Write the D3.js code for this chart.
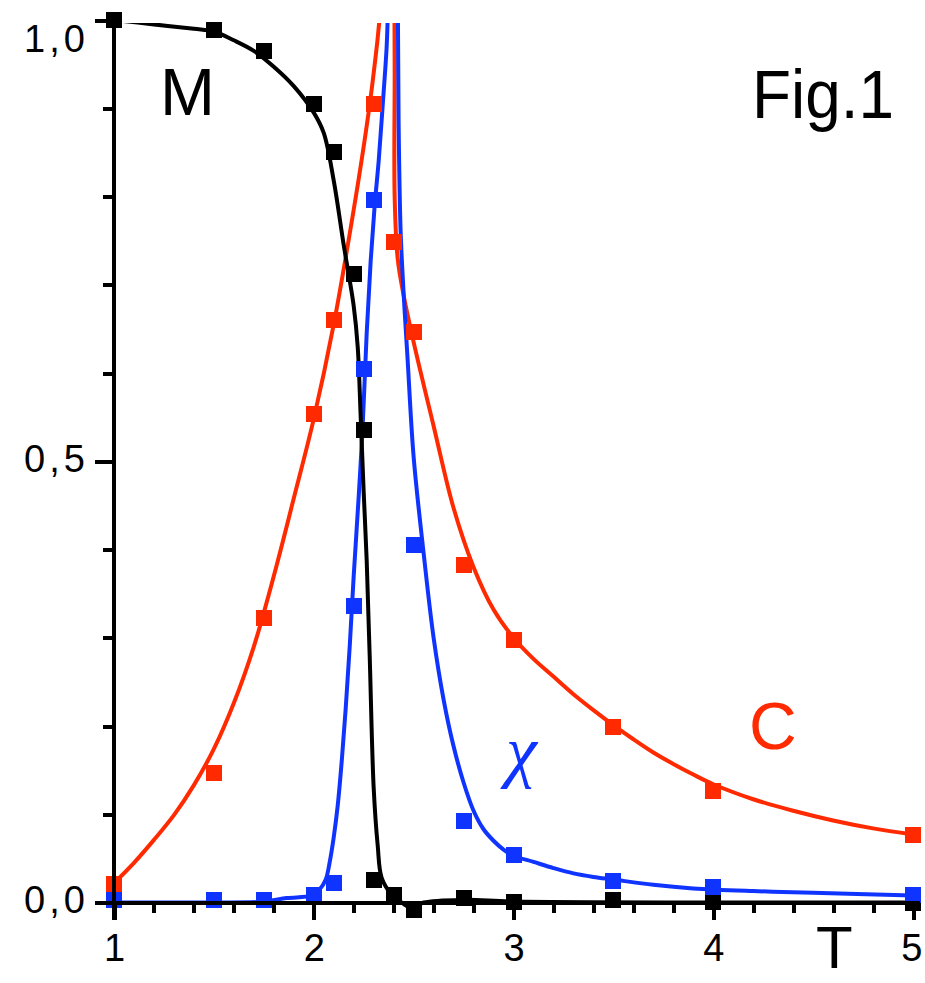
<!DOCTYPE html>
<html lang="en">
<head>
<meta charset="UTF-8">
<script src="https://d3js.org/d3.v7.min.js"></script>
<title>Fig.1</title>
<style>
  body { margin: 0; background: #fff; }
  svg { display: block; }
</style>
</head>
<body>
<div id="chart"></div>
<script>
    // marker temperatures and values
    const tM = [1, 1.5, 1.75, 2, 2.1, 2.2, 2.25, 2.3, 2.4, 2.5, 2.75, 3, 3.5, 4, 5]
    const mMarks = [1.0, 0.989, 0.965, 0.905, 0.85, 0.712, 0.535, 0.026, 0.009, -0.009, 0.005, 0.001, 0.003, 0.001, 0.0]

    const tC = [1, 1.5, 1.75, 2, 2.1, 2.3, 2.4, 2.5, 2.75, 3, 3.5, 4, 5]
    const cMarks = [0.021, 0.147, 0.322, 0.554, 0.66, 0.905, 0.749, 0.646, 0.382, 0.297, 0.199, 0.126, 0.077]

    const tX = [1, 1.5, 1.75, 2, 2.1, 2.2, 2.25, 2.3, 2.5, 2.75, 3, 3.5, 4, 5]
    const xMarks = [0.003, 0.003, 0.003, 0.009, 0.022, 0.336, 0.605, 0.796, 0.405, 0.092, 0.054, 0.024, 0.017, 0.009]

    // the drawn curves [T, value]; C and chi run off the top near Tc
    const mLine = [[1.0, 1.0], [1.2, 0.995], [1.4, 0.99], [1.5, 0.987], [1.6, 0.977], [1.7, 0.965],
        [1.8, 0.947], [1.9, 0.925], [2.0, 0.895], [2.05, 0.872], [2.1, 0.818], [2.15, 0.745],
        [2.2, 0.676], [2.22, 0.63], [2.235, 0.55], [2.25, 0.465], [2.265, 0.388], [2.28, 0.28],
        [2.3, 0.13], [2.32, 0.065], [2.34, 0.028], [2.39, 0.009], [2.44, 0.0], [2.49, -0.006],
        [2.55, 0.0], [2.75, 0.003], [3, 0.001], [4, 0], [5, 0]]

    const cLine = [[1.0, 0.022], [1.1, 0.045], [1.2, 0.071], [1.3, 0.099], [1.4, 0.133], [1.5, 0.174],
        [1.6, 0.226], [1.7, 0.29], [1.8, 0.37], [1.9, 0.458], [2.0, 0.548], [2.1, 0.655],
        [2.2, 0.785], [2.26, 0.872], [2.3, 0.94], [2.335, 1.02], [2.37, 1.4], [2.4, 1.1],
        [2.405, 0.95], [2.405, 0.8], [2.42, 0.73], [2.45, 0.688], [2.5, 0.635], [2.6, 0.54],
        [2.7, 0.447], [2.8, 0.38], [2.9, 0.332], [3.0, 0.3], [3.1, 0.276], [3.2, 0.256],
        [3.3, 0.236], [3.4, 0.218], [3.5, 0.201], [3.6, 0.185], [3.7, 0.17], [3.8, 0.157],
        [3.9, 0.145], [4.0, 0.134], [4.2, 0.117], [4.4, 0.104], [4.6, 0.093], [4.8, 0.084], [5.0, 0.077]]

    const xLine = [[1.0, 0.0], [1.5, 0.0], [1.75, 0.001], [1.865, 0.005], [1.99, 0.008], [2.03, 0.015],
        [2.06, 0.026], [2.08, 0.046], [2.1, 0.074], [2.12, 0.11], [2.14, 0.16], [2.16, 0.22],
        [2.18, 0.29], [2.2, 0.37], [2.225, 0.46], [2.245, 0.54], [2.265, 0.645], [2.285, 0.727],
        [2.305, 0.79], [2.325, 0.84], [2.345, 0.903], [2.365, 0.97], [2.372, 1.02], [2.395, 1.4],
        [2.42, 1.05], [2.425, 0.88], [2.435, 0.76], [2.45, 0.69], [2.47, 0.615], [2.5, 0.505],
        [2.55, 0.396], [2.6, 0.3], [2.65, 0.23], [2.7, 0.177], [2.75, 0.136], [2.8, 0.104],
        [2.85, 0.083], [2.9, 0.07], [2.95, 0.06], [3.0, 0.053], [3.1, 0.046], [3.2, 0.039],
        [3.3, 0.033], [3.4, 0.029], [3.5, 0.026], [3.7, 0.02], [3.9, 0.016], [4.2, 0.013],
        [4.5, 0.011], [5, 0.008]]

    // tick labels
    const xTicks = [1, 2, 3, 4, 5]
    const yTicks = [0, 0.5, 1]
    const yTickLabels = ["0,0", "0,5", "1,0"]

    const width = 925
    const height = 983
    const red = "#ff2a00"
    const blue = "#1034ff"
    const font = "'Liberation Sans', Arial, sans-serif"

    const svg = d3.select("#chart")
        .append("svg")
        .attr("width", width)
        .attr("height", height)

    const x = d3.scaleLinear().domain([1, 5]).range([114, 913])
    const y = d3.scaleLinear().domain([0, 1]).range([902.5, 20])

    // curves are cut at the top of the frame
    svg.append("clipPath").attr("id", "frame")
        .append("rect")
        .attr("x", 0).attr("y", y(1) + 3)
        .attr("width", width).attr("height", height)

    const line = d3.line()
        .x(d => x(d[0]))
        .y(d => y(d[1]))
        .curve(d3.curveCatmullRom.alpha(0.5))

    const curves = svg.append("g").attr("clip-path", "url(#frame)")
    const series = [
        {data: cLine, color: red},
        {data: xLine, color: blue},
        {data: mLine, color: "#000"}
    ]
    series.forEach(s => {
        curves.append("path")
            .attr("d", line(s.data))
            .attr("fill", "none")
            .attr("stroke", s.color)
            .attr("stroke-width", 4)
            .attr("stroke-linejoin", "round")
    })

    // square markers: black, then red, then blue on top
    const marks = [
        {t: tM, v: mMarks, color: "#000"},
        {t: tC, v: cMarks, color: red},
        {t: tX, v: xMarks, color: blue}
    ]
    const size = 16
    marks.forEach(m => {
        svg.append("g")
            .selectAll("rect")
            .data(m.t.map((t, i) => [t, m.v[i]]))
            .join("rect")
              .attr("x", d => x(d[0]) - size / 2)
              .attr("y", d => y(d[1]) - size / 2)
              .attr("width", size)
              .attr("height", size)
              .attr("fill", m.color)
              .attr("shape-rendering", "crispEdges")
    })

    // axes sit over the markers
    const axes = svg.append("g")
        .attr("color", "#000")
        .attr("shape-rendering", "crispEdges")

    axes.append("line")
        .attr("x1", x(1) - 19).attr("x2", x(5) + 7)
        .attr("y1", y(0)).attr("y2", y(0))
        .attr("stroke", "#000").attr("stroke-width", 4)
    axes.append("line")
        .attr("x1", x(1)).attr("x2", x(1))
        .attr("y1", y(1) - 2).attr("y2", y(0) + 17)
        .attr("stroke", "#000").attr("stroke-width", 4)

    axes.append("g")
        .attr("transform", `translate(0,${y(0)})`)
        .call(d3.axisBottom(x).ticks(20).tickSize(10).tickSizeOuter(0).tickFormat(""))
    const xMajor = axes.append("g")
        .attr("transform", `translate(0,${y(0)})`)
        .call(d3.axisBottom(x).tickValues(xTicks).tickSize(17).tickSizeOuter(0)
            .tickPadding(15).tickFormat(d3.format("d")))
    axes.append("g")
        .attr("transform", `translate(${x(1)},0)`)
        .call(d3.axisLeft(y).ticks(10).tickSize(11).tickSizeOuter(0).tickFormat(""))
    const yMajor = axes.append("g")
        .attr("transform", `translate(${x(1)},0)`)
        .call(d3.axisLeft(y).tickValues(yTicks).tickSize(19).tickSizeOuter(0)
            .tickPadding(10).tickFormat((d, i) => yTickLabels[i]))

    axes.selectAll(".domain").remove()
    axes.selectAll(".tick line")
        .attr("stroke", "#000")
        .attr("stroke-width", 4)
    axes.selectAll(".tick text")
        .attr("font-family", font)
        .attr("font-size", 38)
        .attr("fill", "#000")

    xMajor.selectAll(".tick text")
        .filter(d => d === 5)
        .attr("text-anchor", "end")
        .attr("x", 9)

    yMajor.selectAll(".tick text")
        .attr("textLength", 61)
        .attr("lengthAdjust", "spacing")
        .attr("dy", d => d === 1 ? "0.82em" : "0.27em")

    // curve names and captions
    const labels = [
        {text: "M", x: 160, y: 115, size: 66, color: "#000"},
        {text: "Fig.1", x: 752, y: 118, size: 68, color: "#000", len: 142},
        {text: "C", x: 749, y: 749, size: 66, color: red},
        {text: "T", x: 816, y: 968, size: 60, color: "#000"}
    ]
    labels.forEach(l => {
        const t = svg.append("text")
            .attr("x", l.x).attr("y", l.y)
            .attr("font-family", font)
            .attr("font-size", l.size)
            .attr("fill", l.color)
            .text(l.text)
        if (l.len) t.attr("textLength", l.len).attr("lengthAdjust", "spacingAndGlyphs")
    })

    svg.append("text")
        .attr("x", 506).attr("y", 774)
        .attr("font-family", "'Liberation Serif', 'DejaVu Serif', serif")
        .attr("font-style", "italic")
        .attr("font-size", 70)
        .attr("fill", blue)
        .text("χ")
</script>
</body>
</html>
